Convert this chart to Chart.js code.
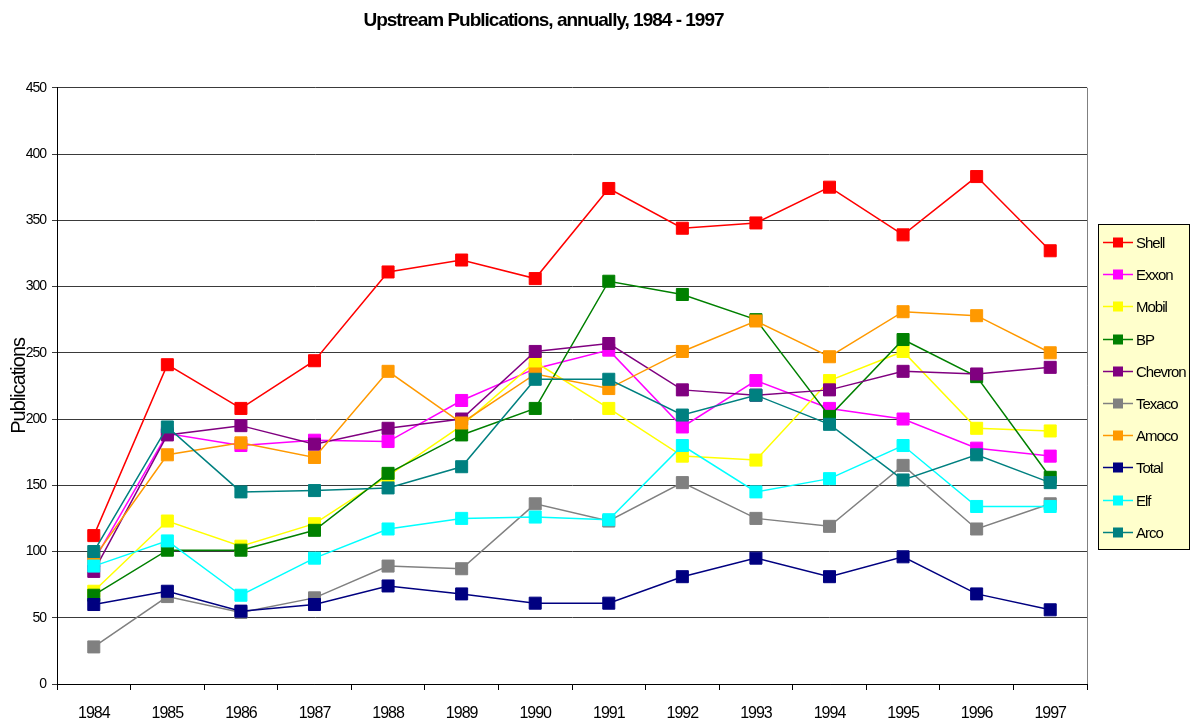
<!DOCTYPE html>
<html>
<head>
<meta charset="utf-8">
<script src="https://cdn.jsdelivr.net/npm/chart.js@4.4.1/dist/chart.umd.min.js"></script>
<style>
html,body{margin:0;padding:0;background:#fff;}
#wrap{width:1197px;height:724px;position:relative;}
</style>
</head>
<body>
<div id="wrap"><canvas id="c" width="1197" height="724"></canvas></div>
<script>
// ---- data ----
const years = ['1984','1985','1986','1987','1988','1989','1990','1991','1992','1993','1994','1995','1996','1997'];
const shell   = [112, 241, 208, 244, 311, 320, 306, 374, 344, 348, 375, 339, 383, 327];
const exxon   = [ 93, 189, 180, 184, 183, 214, 238, 252, 194, 229, 208, 200, 178, 172];
const mobil   = [ 70, 123, 104, 121, 157, 195, 243, 208, 172, 169, 229, 251, 193, 191];
const bp      = [ 67, 101, 101, 116, 159, 188, 208, 304, 294, 275, 202, 260, 232, 156];
const chevron = [ 85, 188, 195, 181, 193, 200, 251, 257, 222, 218, 222, 236, 234, 239];
const texaco  = [ 28,  66,  54,  65,  89,  87, 136, 123, 152, 125, 119, 165, 117, 136];
const amoco   = [ 95, 173, 182, 171, 236, 197, 234, 223, 251, 274, 247, 281, 278, 250];
const total   = [ 60,  70,  55,  60,  74,  68,  61,  61,  81,  95,  81,  96,  68,  56];
const elf     = [ 89, 108,  67,  95, 117, 125, 126, 124, 180, 145, 155, 180, 134, 134];
const arco    = [100, 194, 145, 146, 148, 164, 230, 230, 203, 218, 196, 154, 173, 152];

const seriesNames  = ['Shell','Exxon','Mobil','BP','Chevron','Texaco','Amoco','Total','Elf','Arco'];
const seriesValues = [shell, exxon, mobil, bp, chevron, texaco, amoco, total, elf, arco];
const seriesColors = ['#FF0000','#FF00FF','#FFFF00','#008000','#800080','#808080','#FF9900','#000080','#00FFFF','#008080'];

const yMin = 0, yMax = 450, yStep = 50;
const titleText = 'Upstream Publications, annually, 1984 - 1997';
const yTitle = 'Publications';

const FONT = '"Liberation Sans", Arial, Helvetica, sans-serif';

const N = seriesNames.length;
const datasets = seriesNames.map((name, i) => ({
  label: name,
  data: seriesValues[i],
  borderColor: seriesColors[i],
  backgroundColor: seriesColors[i],
  pointBackgroundColor: seriesColors[i],
  pointBorderColor: seriesColors[i],
  borderWidth: 1.5,
  pointStyle: 'rect',
  pointRadius: 8.5,
  pointBorderWidth: 1,
  tension: 0,
  order: N - 1 - i
}));

function tighten(chart) {
  if ('letterSpacing' in chart.ctx) chart.ctx.letterSpacing = '-1px';
}

const frameAndLegend = {
  id: 'frameAndLegend',
  beforeUpdate(chart) { tighten(chart); },
  beforeLayout(chart) { tighten(chart); },
  beforeDraw(chart) { tighten(chart); },
  beforeDatasetsDraw(chart) {
    const {ctx, chartArea} = chart;
    ctx.save();
    ctx.strokeStyle = '#808080';
    ctx.lineWidth = 1;
    ctx.beginPath();
    ctx.moveTo(Math.round(chartArea.right) + 0.5, chartArea.top);
    ctx.lineTo(Math.round(chartArea.right) + 0.5, chartArea.bottom);
    ctx.stroke();
    ctx.restore();
  },
  afterDraw(chart) {
    const ctx = chart.ctx;
    const x0 = 1098, y0 = 224, w = 91, h = 325;
    ctx.save();
    tighten(chart);
    ctx.fillStyle = '#FFFFCC';
    ctx.fillRect(x0, y0, w, h);
    ctx.strokeStyle = '#000';
    ctx.lineWidth = 1;
    ctx.strokeRect(x0 + 0.5, y0 + 0.5, w, h);
    chart.data.datasets.forEach((ds, i) => {
      const y = Math.round(242 + i * 32.2) + 0.5;
      ctx.strokeStyle = ds.borderColor;
      ctx.lineWidth = 1.5;
      ctx.beginPath();
      ctx.moveTo(1103, y);
      ctx.lineTo(1133, y);
      ctx.stroke();
      ctx.fillStyle = ds.backgroundColor;
      ctx.fillRect(1113, y - 5, 10, 10);
      ctx.fillStyle = '#000';
      ctx.font = '15px ' + FONT;
      ctx.textAlign = 'left';
      ctx.textBaseline = 'middle';
      ctx.fillText(ds.label, 1136, y + 1);
    });
    ctx.restore();
  }
};

new Chart(document.getElementById('c'), {
  type: 'line',
  data: { labels: years, datasets },
  options: {
    responsive: false,
    devicePixelRatio: 1,
    animation: false,
    layout: { padding: { left: 0, right: 110, top: 0, bottom: 0 } },
    plugins: {
      legend: { display: false },
      tooltip: { enabled: false },
      title: {
        display: true,
        text: titleText,
        color: '#000',
        font: { family: FONT, size: 19, weight: 'bold' },
        padding: { top: 9, bottom: 56 }
      }
    },
    scales: {
      x: {
        type: 'category',
        offset: true,
        grid: { display: true, drawOnChartArea: false, drawTicks: true, tickLength: 6, color: '#000', offset: true },
        border: { display: true, color: '#000', width: 1 },
        ticks: { color: '#000', font: { family: FONT, size: 16 }, padding: 14, maxRotation: 0, autoSkip: false },
        afterFit(s) { s.height = 40; }
      },
      y: {
        min: yMin, max: yMax,
        ticks: { stepSize: yStep, color: '#000', font: { family: FONT, size: 14 }, padding: 6 },
        grid: { color: '#3a3a3a', lineWidth: 1, tickLength: 5, drawTicks: true },
        border: { display: true, color: '#000', width: 1 },
        title: { display: true, text: yTitle, color: '#000', font: { family: FONT, size: 20 }, padding: { top: 7, bottom: 0 } },
        afterFit(s) { s.width = 57; }
      }
    }
  },
  plugins: [frameAndLegend]
});
</script>
</body>
</html>
